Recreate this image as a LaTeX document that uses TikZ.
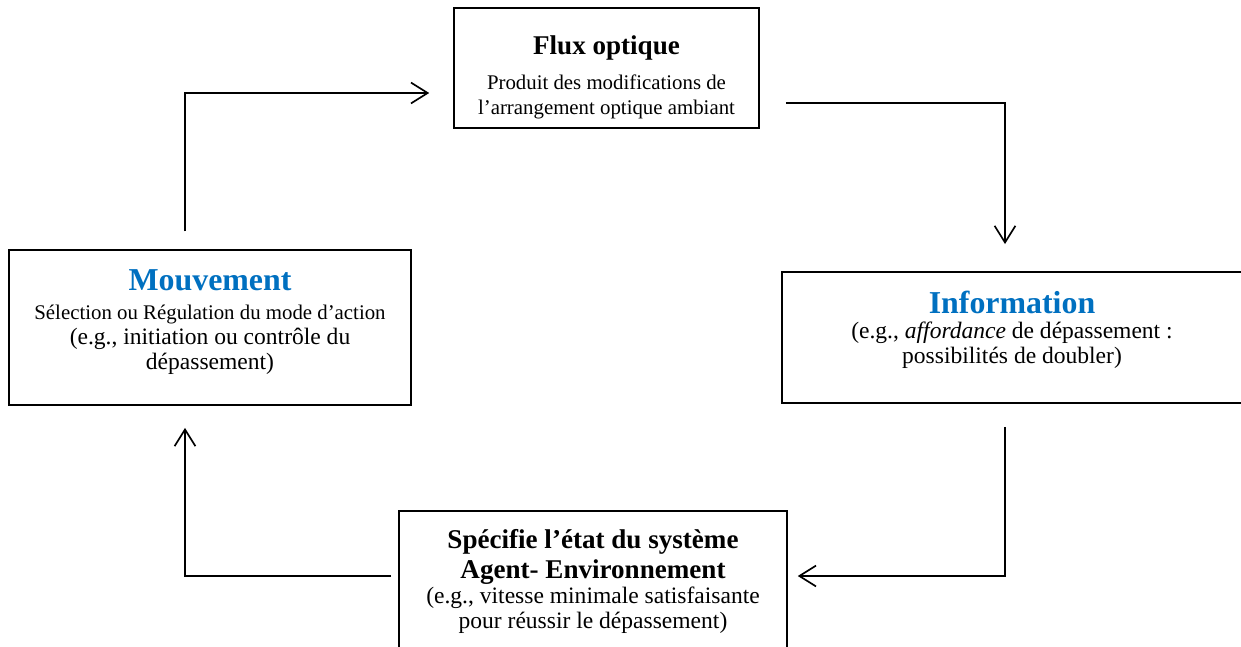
\documentclass[tikz,border=0pt]{standalone}
\usepackage{fontspec}
\setmainfont{Liberation Serif}
\usetikzlibrary{arrows.meta}

\definecolor{title blue}{RGB}{0,112,192}
\tikzset{
  box/.style={draw=black, line width=0.8pt, align=center, inner sep=0pt,
    font=\fontsize{11.3}{12}\selectfont},
  flow/.style={draw, line width=0.8pt, -{Straight Barb[length=8pt,width=10pt]}}
  }
\newcommand{\bluehead}[1]{{\fontsize{15.3}{16}\selectfont\bfseries\color{title blue}#1}}
\newcommand{\boldhead}[1]{{\fontsize{13}{15}\selectfont\bfseries #1}}
\newcommand{\smalltext}[1]{{\fontsize{10}{12}\selectfont #1}}
% struts to move a text block up or down inside its box
\newcommand{\lifttext}[1]{\rule[-#1]{0pt}{0pt}}
\newcommand{\droptext}[1]{\rule{0pt}{#1}}

\begin{document}
\begin{tikzpicture}[x=0.48pt,y=-0.48pt]
   \useasboundingbox (0,0) rectangle (1241,646);

   % the four boxes of the loop
   \node[box, minimum width=146.4pt, minimum height=57.6pt] (flux) at (606.5,68)
     {\droptext{18pt}\boldhead{Flux optique}\\[4.5pt] \smalltext{Produit des modifications de}\\ \smalltext{l’arrangement optique ambiant}};
   \node[box, minimum width=193pt, minimum height=74.4pt] (mouv) at (210,327.5)
     {\bluehead{Mouvement}\\[2pt] \smalltext{Sélection ou Régulation du mode d’action}\\ (e.g., initiation ou contrôle du\\ dépassement)\lifttext{8pt}};
   \node[box, minimum width=220.8pt, minimum height=62.9pt] (info) at (1012,337.5)
     {\bluehead{Information}\\ (e.g., \textit{affordance} de dépassement :\\ possibilités de doubler)\lifttext{9.5pt}};
   \node[box, minimum width=186.2pt, minimum height=67.2pt] (spec) at (593,581)
     {\boldhead{Spécifie l’état du système}\\[2.4pt] \boldhead{Agent- Environnement}\\ (e.g., vitesse minimale satisfaisante\\ pour réussir le dépassement)};

   % corners of the connectors
   \coordinate (c1) at (185,93);
   \coordinate (c2) at (1005,103);
   \coordinate (c3) at (1005,576);
   \coordinate (c4) at (185,576);

   \draw[flow, shorten <=8.6pt, shorten >=11.5pt] (mouv.north -| c1) -- (c1) -- (flux.west |- c1);
   \draw[flow, shorten <=12.5pt, shorten >=13pt] (flux.east |- c2) -- (c2) -- (info.north -| c2);
   \draw[flow, shorten <=11pt, shorten >=4.8pt] (info.south -| c3) -- (c3) -- (spec.east |- c3);
   \draw[flow, shorten <=3.4pt, shorten >=10.6pt] (spec.west |- c4) -- (c4) -- (mouv.south -| c4);
\end{tikzpicture}
\end{document}
